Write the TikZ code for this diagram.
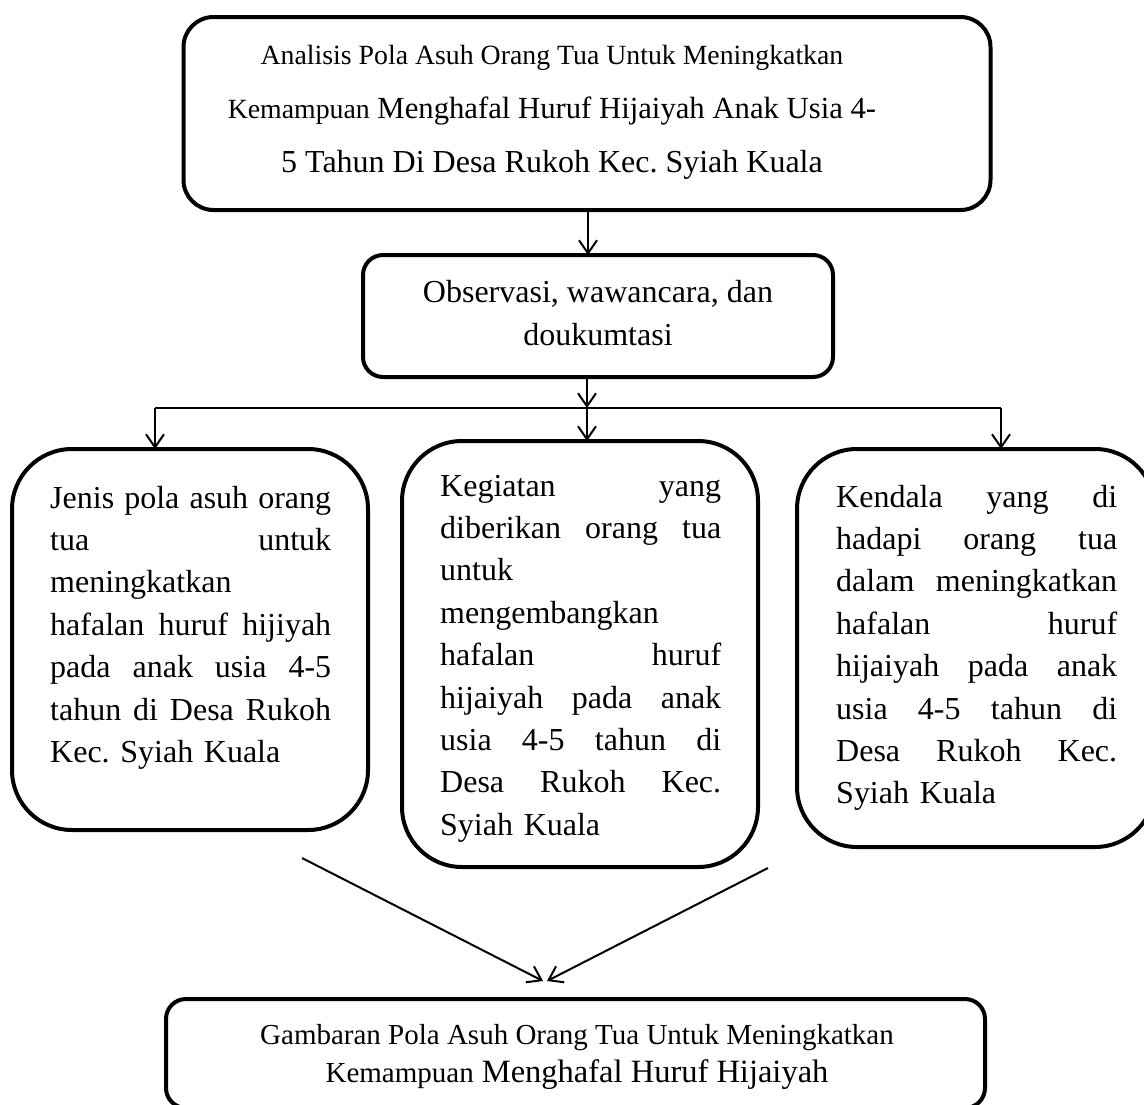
\documentclass[tikz,border=0pt]{standalone}
\usepackage{fontspec}
\setmainfont{Liberation Serif}
\usetikzlibrary{arrows.meta}
\newcommand{\jl}[1]{{\spaceskip=0pt\xspaceskip=0pt\makebox[281pt][s]{#1}}}
\newcommand{\sps}{\frenchspacing\spaceskip=.25em\relax}
\newcommand{\smf}{\fontsize{27.8}{52}\selectfont\sps}
\newcommand{\lgf}{\fontsize{32}{54}\selectfont\sps}
\newcommand{\bsmf}{\fontsize{29}{38}\selectfont\sps}
\begin{document}
\begin{tikzpicture}[x=1pt,y=-1pt,
  box/.style={draw, line width=4pt, inner sep=0pt, outer sep=0pt},
  conn/.style={line width=2pt},
  arr/.style={line width=2pt, -{Straight Barb[length=13pt,width=18pt]}},
  txt/.style={inner sep=0pt, text width=281pt, align=left, font=\fontsize{32}{42.4}\selectfont, anchor=base west},
  ctxt/.style={inner sep=0pt, align=center, anchor=base},
]
\useasboundingbox (0,0) rectangle (1144,1104);
\fill[white] (0,0) rectangle (1144,1104);

% boxes
\node[box, rounded corners=30pt, minimum width=807pt, minimum height=193pt] (top) at (587,113.5) {};
\node[box, rounded corners=20pt, minimum width=470pt, minimum height=122pt] (obs) at (598,316) {};
\node[box, rounded corners=60pt, minimum width=356pt, minimum height=381pt] (L) at (190,639.5) {};
\node[box, rounded corners=60pt, minimum width=356pt, minimum height=426pt] (M) at (580,654) {};
\node[box, rounded corners=60pt, minimum width=358pt, minimum height=398pt] (R) at (976,648) {};
\node[box, rounded corners=20pt, minimum width=819pt, minimum height=109pt] (B) at (575.5,1053.5) {};

% texts
\node[ctxt, text width=760pt, font=\fontsize{30.7}{54}\selectfont] (topt) at (552,64)
 {\sps{\smf Analisis Pola Asuh Orang Tua Untuk Meningkatkan}\\
  {\smf Kemampuan} Menghafal Huruf Hijaiyah Anak Usia 4-\\
  {\lgf 5 Tahun Di Desa Rukoh Kec. Syiah Kuala}};
\node[ctxt, text width=450pt, font=\fontsize{32}{43}\selectfont] (obst) at (598,302)
 {\sps Observasi, wawancara, dan\\ doukumtasi};
\node[txt] (Lt) at (50,508)
 {\frenchspacing\jl{Jenis pola asuh orang}\\
  \jl{tua untuk}\\
  meningkatkan\\
  \jl{hafalan huruf hijiyah}\\
  \jl{pada anak usia 4-5}\\
  \jl{tahun di Desa Rukoh}\\
  Kec. Syiah Kuala};
\node[txt] (Mt) at (440,496)
 {\frenchspacing\jl{Kegiatan yang}\\
  \jl{diberikan orang tua}\\
  untuk\\
  mengembangkan\\
  \jl{hafalan huruf}\\
  \jl{hijaiyah pada anak}\\
  \jl{usia 4-5 tahun di}\\
  \jl{Desa Rukoh Kec.}\\
  Syiah Kuala};
\node[txt] (Rt) at (836,507)
 {\frenchspacing\jl{Kendala yang di}\\
  \jl{hadapi orang tua}\\
  \jl{dalam meningkatkan}\\
  \jl{hafalan huruf}\\
  \jl{hijaiyah pada anak}\\
  \jl{usia 4-5 tahun di}\\
  \jl{Desa Rukoh Kec.}\\
  Syiah Kuala};
\node[ctxt, text width=800pt, font=\fontsize{32.5}{38}\selectfont] (Bt) at (577,1044)
 {\sps{\bsmf Gambaran Pola Asuh Orang Tua Untuk Meningkatkan}\\
  {\bsmf Kemampuan} Menghafal Huruf Hijaiyah};

% connectors
\coordinate (a1) at (588,210);
\draw[arr] (a1) -- (a1 |- obs.north);
\coordinate (jL) at (155,408);
\coordinate (jM) at (587,408);
\coordinate (jR) at (1001,408);
\draw[conn] (jL) -- (jR);
\draw[arr] (jM |- obs.south) -- (jM);
\draw[arr] (jL) -- (jL |- L.north);
\draw[arr] (jM) -- (jM |- M.north);
\draw[arr] (jR) -- (jR |- R.north);
\coordinate (s1) at (302,858);
\coordinate (s2) at (768,868);
\coordinate (t1) at (543,981);
\coordinate (t2) at (547,981);
\draw[arr] (s1) -- (t1);
\draw[arr] (s2) -- (t2);
\end{tikzpicture}
\end{document}
